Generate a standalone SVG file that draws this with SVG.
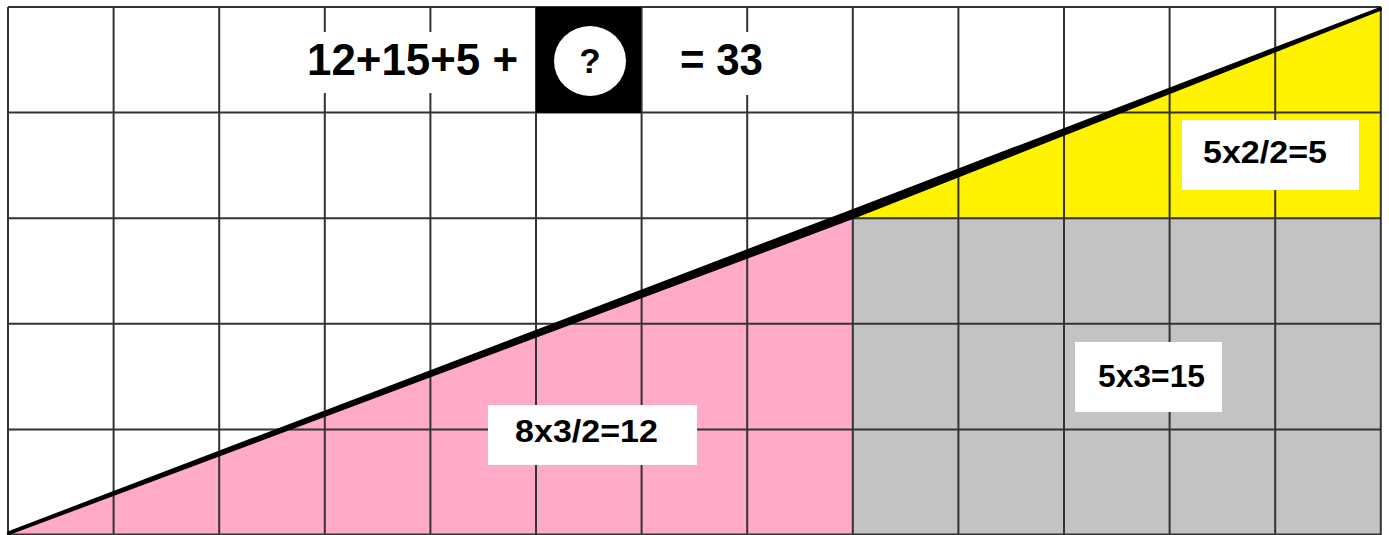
<svg xmlns="http://www.w3.org/2000/svg" width="1389" height="535" viewBox="0 0 1389 535">
<style>
.grid{stroke:#333;stroke-width:2;fill:none}
.lbl{font-family:"Liberation Sans",Arial,sans-serif;font-weight:bold;fill:#000}
.box{fill:#fff}
.hyp{stroke:#000;stroke-width:4;fill:#000;stroke-linecap:round;stroke-linejoin:round}
</style>
<rect x="0" y="0" width="1389" height="535" fill="#fff"/>
<g id="areas">
<polygon points="8,535 853,218 853,535" fill="#FFABC8"/>
<rect x="853" y="218" width="528" height="317" fill="#C3C3C3"/>
<polygon points="853,218 1381,7 1381,218" fill="#FFF200"/>
</g>
<g id="grid" class="grid">
<path d="M8,7V535M113.6,7V535M219.2,7V535M324.8,7V535M430.4,7V535M536,7V535M641.6,7V535M747.2,7V535M852.8,7V535M958.4,7V535M1064,7V535M1169.6,7V535M1275.2,7V535M1380.8,7V535"/>
<path d="M8,7H1381M8,112.6H1381M8,218.2H1381M8,323.8H1381M8,429.4H1381M8,534.5H1381"/>
</g>
<g id="diagonal">
<polygon class="hyp" points="9,533 853,217 1380,9 853,211"/>
</g>
<g id="equation">
<rect class="box" x="300" y="32" width="228" height="61"/>
<rect class="box" x="660" y="32" width="115" height="63"/>
<text class="lbl" x="307" y="75" font-size="44" textLength="211" lengthAdjust="spacingAndGlyphs">12+15+5 +</text>
<rect x="536" y="7" width="105" height="106" fill="#000"/>
<ellipse cx="590" cy="61" rx="36" ry="35" fill="#fff"/>
<text class="lbl" x="590" y="73" font-size="35" text-anchor="middle">?</text>
<text class="lbl" x="680" y="75" font-size="44" textLength="83" lengthAdjust="spacingAndGlyphs">= 33</text>
</g>
<g id="label-yellow">
<rect class="box" x="1182" y="120" width="177" height="70"/>
<text class="lbl" x="1203" y="163" font-size="32" textLength="124" lengthAdjust="spacingAndGlyphs">5x2/2=5</text>
</g>
<g id="label-gray">
<rect class="box" x="1075" y="342" width="147" height="70"/>
<text class="lbl" x="1098" y="387" font-size="32" textLength="107" lengthAdjust="spacingAndGlyphs">5x3=15</text>
</g>
<g id="label-pink">
<rect class="box" x="488" y="405" width="209" height="60"/>
<text class="lbl" x="515" y="442" font-size="31" textLength="143" lengthAdjust="spacingAndGlyphs">8x3/2=12</text>
</g>
</svg>
